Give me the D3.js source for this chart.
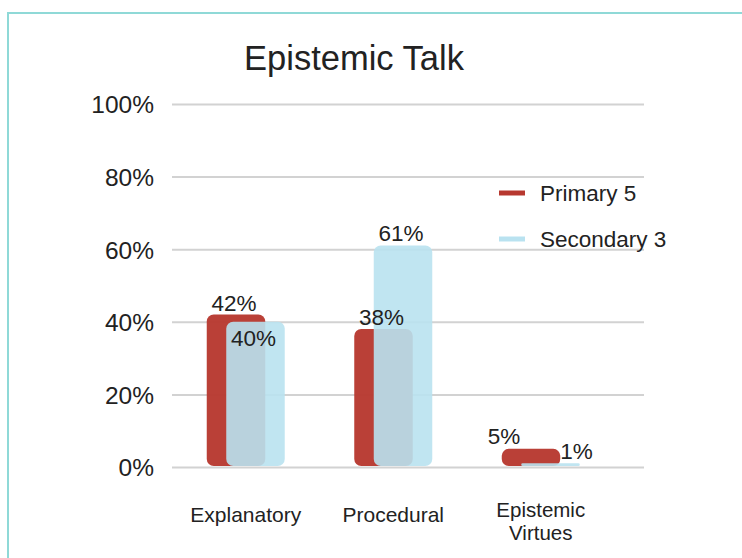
<!DOCTYPE html>
<html>
<head>
<meta charset="utf-8">
<script src="https://cdn.jsdelivr.net/npm/d3@7"></script>
<style>
  html, body { margin: 0; padding: 0; background: #fff; }
  svg { display: block; }
  text { font-family: "Liberation Sans", Arial, Helvetica, sans-serif; fill: #222; }
</style>
</head>
<body>
<svg id="chart" width="742" height="558"></svg>
<script>
// ---- data ----
const categories = ["Explanatory", "Procedural", "Epistemic Virtues"];
const seriesNames = ["Primary 5", "Secondary 3"];
const primary5 = [42, 38, 5];
const secondary3 = [40, 61, 1];
const yTicks = [0, 20, 40, 60, 80, 100];
const title = "Epistemic Talk";

// ---- layout / style (not data) ----
const colors = ["#b7382f", "#b9e2f0"];
const opac = [0.96, 0.9];
// label nudges [dx, dy] relative to default (centered, just above bar top)
const labelNudge = [
  [[-2, 0], [-2, 0], [-27, -1]],
  [[-2, 28], [-2, -1], [26, 0]]
];

const svg = d3.select("#chart");
const W = 742, H = 558;
svg.append("rect").attr("width", W).attr("height", H).attr("fill", "#fff");
// teal frame
svg.append("rect")
  .attr("x", 8).attr("y", 13).attr("width", W + 20).attr("height", H + 20)
  .attr("fill", "none").attr("stroke", "#8fd9d7").attr("stroke-width", 2);

const gridX0 = 172, gridX1 = 644;
const y = d3.scaleLinear().domain([0, 100]).range([467, 104]);
const x = d3.scaleBand().domain(categories).range([172, 614.5]).padding(0);

// gridlines + y labels via axis
const yAxis = d3.axisLeft(y).tickValues(yTicks)
  .tickFormat(d => d + "%")
  .tickSize(-(gridX1 - gridX0)).tickPadding(18);
const gy = svg.append("g").attr("transform", `translate(${gridX0},0)`).call(yAxis);
gy.select(".domain").remove();
gy.selectAll(".tick line").attr("stroke", "#d2d2d2").attr("stroke-width", 2);
gy.selectAll(".tick text")
  .attr("font-size", 24.5).attr("fill", "#222")
  .attr("font-family", "'Liberation Sans', Arial, sans-serif")
  .attr("dy", "0.36em");

// bars
const series = [primary5, secondary3];
const pairW = 78, barW = 58.5;
const offsets = [-pairW / 2, -pairW / 2 + 19.5];
const rows = [];
series.forEach((vals, si) => {
  vals.forEach((v, ci) => rows.push({ si, ci, v, cat: categories[ci] }));
});
const bx = d => x(d.cat) + x.bandwidth() / 2 + offsets[d.si];

svg.append("g").selectAll("rect").data(rows).join("rect")
  .attr("x", bx)
  .attr("y", d => y(d.v))
  .attr("width", barW)
  .attr("height", d => y(0) - 1 - y(d.v))
  .attr("rx", d => Math.min(7, (y(0) - 1 - y(d.v)) / 2))
  .attr("fill", d => colors[d.si])
  .attr("fill-opacity", d => opac[d.si]);

// value labels
svg.append("g").selectAll("text").data(rows).join("text")
  .attr("x", d => bx(d) + barW / 2 + labelNudge[d.si][d.ci][0])
  .attr("y", d => y(d.v) - 4 + labelNudge[d.si][d.ci][1])
  .attr("text-anchor", "middle")
  .attr("font-size", 22.5)
  .text(d => d.v + "%");

// category labels (each line its own text element)
const cg = svg.append("g");
categories.forEach(c => {
  const words = c.split(" ");
  const cx = x(c) + x.bandwidth() / 2;
  words.forEach((w, i) => {
    cg.append("text")
      .attr("x", cx)
      .attr("y", (words.length > 1 ? 517 : 522) + i * 23)
      .attr("text-anchor", "middle")
      .attr("font-size", words.length > 1 ? 20.5 : 21)
      .text(w);
  });
});

// title
svg.append("text").attr("x", 354).attr("y", 70)
  .attr("text-anchor", "middle").attr("font-size", 34.5).text(title);

// legend
const lg = svg.append("g");
seriesNames.forEach((n, i) => {
  const ly = 193 + i * 46;
  lg.append("line").attr("x1", 499).attr("x2", 525).attr("y1", ly).attr("y2", ly)
    .attr("stroke", colors[i]).attr("stroke-width", 5);
  lg.append("text").attr("x", 540).attr("y", ly + 8).attr("font-size", 22.5).text(n);
});
</script>
</body>
</html>
